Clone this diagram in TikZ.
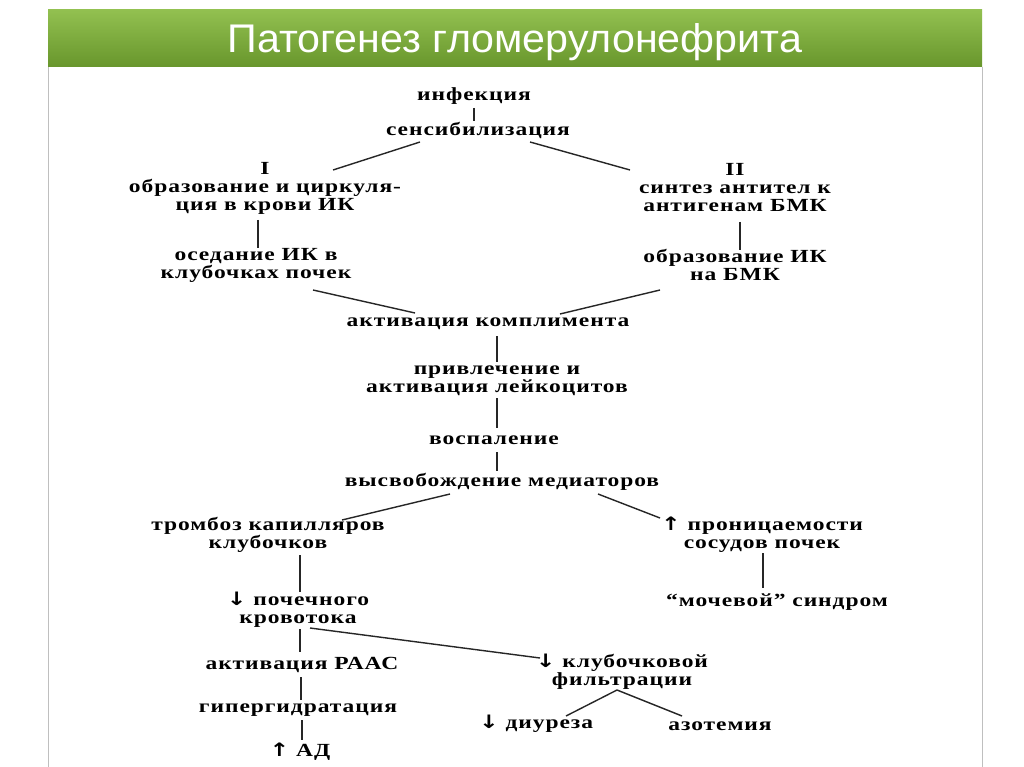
\documentclass[tikz,border=0pt]{standalone}
\usepackage{fontspec}
\setmainfont{Liberation Serif}[LetterSpace=4]
\newfontfamily\titlefont{Liberation Sans}
\newfontfamily\arr{DejaVu Sans}
\begin{document}
\begin{tikzpicture}[x=1pt,y=-1pt,
  t/.style={font=\bfseries\fontsize{18.5}{18}\selectfont,align=center,inner sep=0pt,xscale=1.27},
  ln/.style={line width=1.4pt,black!85}]
\useasboundingbox (0,0) rectangle (1024,767);
\fill[white] (0,0) rectangle (1024,767);
\draw[black!25] (48,67) -- (48,767) (982,67) -- (982,767);
\shade[top color={rgb,255:red,146;green,192;blue,80},bottom color={rgb,255:red,104;green,150;blue,44}] (48,10) rectangle (982,67);
\node[font=\titlefont\fontsize{40}{44}\selectfont,text=white,xscale=1.03] (title) at (515,42) {Патогенез гломерулонефрита};
\node[t] (inf) at (474,96) {инфекция};
\node[t] (sens) at (478,130) {сенсибилизация};
\node[t] (I) at (265,188) {I\\образование и циркуля-\\ция в крови ИК};
\node[t] (II) at (735,188) {II\\синтез антител к\\антигенам БМК};
\node[t] (osed) at (256,265) {оседание ИК в\\клубочках почек};
\node[t] (obr) at (735,265) {образование ИК\\на БМК};
\node[t] (akt) at (488,324) {активация комплимента};
\node[t] (priv) at (497,381) {привлечение и\\активация лейкоцитов};
\node[t] (vosp) at (494,440) {воспаление};
\node[t] (vys) at (502,482) {высвобождение медиаторов};
\node[t] (tromb) at (268,535) {тромбоз капилляров\\клубочков};
\node[t] (pron) at (762,535) {{\arr↑} проницаемости\\сосудов почек};
\node[t] (poch) at (298,610) {{\arr↓} почечного\\кровотока};
\node[t] (moch) at (777,602) {“мочевой” синдром};
\node[t] (raas) at (302,665) {активация РААС};
\node[t] (klub) at (622,672) {{\arr↓} клубочковой\\фильтрации};
\node[t] (gip) at (298,710) {гипергидратация};
\node[t] (ad) at (300,752) {{\arr↑} АД};
\node[t] (diur) at (536,724) {{\arr↓} диуреза};
\node[t] (azot) at (720,726) {азотемия};
\coordinate (f1) at (474,108); \coordinate (f2) at (474,121);
\draw[ln] (f1) -- (f2);
\coordinate (s1) at (420,142); \coordinate (s2) at (530,142);
\coordinate (i1) at (333,170); \coordinate (i2) at (630,170);
\draw[ln] (s1) -- (i1) (s2) -- (i2);
\draw[ln] (258,220) -- (258,248);
\draw[ln] (740,222) -- (740,250);
\coordinate (o1) at (313,290); \coordinate (a1) at (415,313);
\coordinate (o2) at (660,290); \coordinate (a2) at (560,314);
\draw[ln] (o1) -- (a1) (o2) -- (a2);
\draw[ln] (497,336) -- (497,362);
\draw[ln] (497,398) -- (497,428);
\draw[ln] (497,452) -- (497,471);
\coordinate (v1) at (450,494); \coordinate (t1) at (342,520);
\coordinate (v2) at (598,494); \coordinate (p1) at (660,518);
\draw[ln] (v1) -- (t1) (v2) -- (p1);
\draw[ln] (300,555) -- (300,592);
\draw[ln] (763,553) -- (763,588);
\draw[ln] (300,629) -- (300,652);
\coordinate (k0) at (310,628); \coordinate (k1) at (540,658);
\draw[ln] (k0) -- (k1);
\draw[ln] (301,677) -- (301,700);
\draw[ln] (302,720) -- (302,740);
\coordinate (kb) at (617,690); \coordinate (d1) at (566,716); \coordinate (z1) at (682,716);
\draw[ln] (kb) -- (d1) (kb) -- (z1);
\end{tikzpicture}
\end{document}
